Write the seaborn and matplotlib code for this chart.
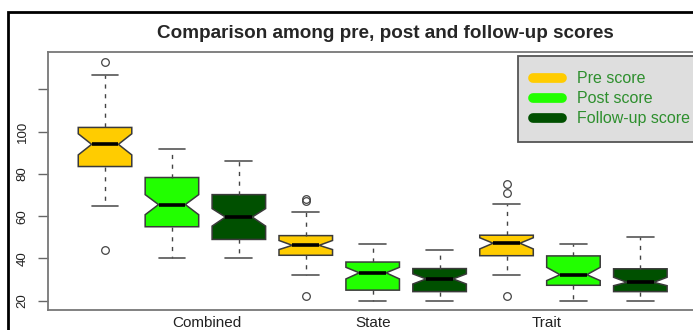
import matplotlib
matplotlib.use("Agg")
import matplotlib.pyplot as plt
from matplotlib.lines import Line2D
import seaborn as sns

# valores (9 caixas: 3 escalas x 3 momentos)
escalas = ["Combined", "State", "Trait"]
momentos = ["Pre score", "Post score", "Follow-up score"]
cores = ["#FFCC00", "#22FF00", "#005000"]

bigode_inf = [65, 40, 40, 32, 20, 20, 32, 20, 20]
quartil_1 = [83.5, 55, 49, 41.5, 25, 24.3, 41.3, 27.3, 24.3]
mediana = [94, 65.5, 59.6, 46.2, 33.2, 30.3, 47.2, 32.3, 28.7]
quartil_3 = [102, 78.3, 70.2, 50.8, 38.3, 35.2, 51, 41.2, 35.1]
bigode_sup = [127, 92, 86, 62, 47, 44, 66, 47, 50]
entalhe_inf = [89, 60.7, 55.3, 44.2, 30.3, 27.9, 44.5, 29.5, 27.1]
entalhe_sup = [99, 70.2, 63.6, 48.5, 35.8, 32.7, 49.8, 35.8, 31.1]
outliers = [[44, 133], [], [], [22, 67, 68], [], [], [22, 71, 75], [], []]

yticks = [20, 40, 60, 80, 100, 120]
ytick_labels = ["20", "40", "60", "80", "100", ""]

sns.set_style("white")
plt.rcParams["font.family"] = ["Liberation Sans", "DejaVu Sans"]

fig = plt.figure(figsize=(6.93, 3.30), dpi=100)
# o eixo passa da borda direita (a imagem original esta cortada)
ax = fig.add_axes([48 / 693, 20 / 330, 676 / 693, 258 / 330])

# estatisticas no formato do bxp
stats = []
for i in range(len(mediana)):
    stats.append({
        "whislo": bigode_inf[i], "q1": quartil_1[i], "med": mediana[i],
        "q3": quartil_3[i], "whishi": bigode_sup[i],
        "cilo": entalhe_inf[i], "cihi": entalhe_sup[i],
        "fliers": outliers[i],
    })

posicoes = list(range(1, len(stats) + 1))
bp = ax.bxp(
    stats, positions=posicoes, widths=0.8, shownotches=True, patch_artist=True,
    boxprops=dict(edgecolor="#3a3a3a", linewidth=1.1),
    medianprops=dict(color="black", linewidth=2.6),
    whiskerprops=dict(color="#444444", linewidth=1.0, linestyle=(0, (3, 4))),
    capprops=dict(color="#555555", linewidth=1.2),
    flierprops=dict(marker="o", markersize=5.5, markerfacecolor="none",
                    markeredgecolor="#444444", markeredgewidth=0.9),
)
for i, caixa in enumerate(bp["boxes"]):
    caixa.set_facecolor(cores[i % 3])

ax.set_xlim(0.148, 10.25)
ax.set_ylim(15.6, 137.7)
ax.set_yticks(yticks)
ax.set_yticklabels(ytick_labels, rotation=90, va="center", fontsize=9.5, color="#222222")
ax.set_xticks([2.52, 5.0, 7.6])
ax.set_xticklabels(escalas, fontsize=11, color="#222222")
ax.tick_params(axis="x", length=0, pad=4)
ax.tick_params(axis="y", length=7, width=1, color="#666666", pad=7, left=True)
for sp in ax.spines.values():
    sp.set_color("#777777")
    sp.set_linewidth(1.3)

# legenda
handles = [Line2D([0], [0], color=c, lw=7, solid_capstyle="round") for c in cores]
leg = fig.legend(
    handles, momentos, loc="upper left", bbox_to_anchor=(518 / 693, 1 - 56 / 330),
    fontsize=11.5, frameon=True, fancybox=False, framealpha=1,
    facecolor="#DEDEDE", edgecolor="#555555", borderaxespad=0,
    handlelength=1.8, handletextpad=0.95, labelspacing=0.32, borderpad=0.95,
)
leg.get_frame().set_linewidth(1.3)
for t in leg.get_texts():
    t.set_color("#2E8F2E")

fig.text(385 / 693, 1 - 33 / 330, "Comparison among pre, post and follow-up scores",
         ha="center", va="center", fontsize=13.6, fontweight="bold")

# moldura externa preta (so esquerda e topo aparecem no recorte)
x0, y0 = 8 / 693, 1 - 12 / 330
fig.add_artist(Line2D([x0, x0, 1.0], [0.0, y0, y0], transform=fig.transFigure,
                      color="black", linewidth=2, solid_joinstyle="miter"))

fig.savefig("out.png", dpi=100)
